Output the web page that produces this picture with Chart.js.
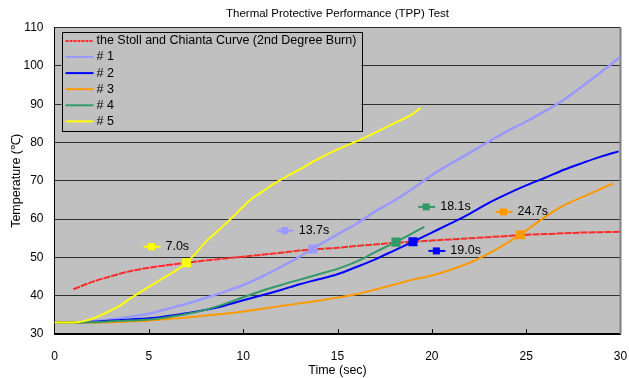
<!DOCTYPE html>
<html>
<head>
<meta charset="utf-8">
<script src="https://cdn.jsdelivr.net/npm/chart.js@4.4.1/dist/chart.umd.min.js"></script>
<style>
  html, body { margin: 0; padding: 0; background: #fff; }
</style>
</head>
<body>
<canvas id="tpp" width="629" height="378"></canvas>
<script>
const FONT = '"Liberation Sans", Arial, sans-serif';
const TITLE = 'Thermal Protective Performance (TPP) Test';

// Stoll and Chianta curve (2nd degree burn)
const stollTime = [1,2,3,4,5,6,7,8,9,10,11,12,13,14,15,16,17,18,19,20,21,22,23,24,25,26,27,28,29,30];
const stollTemp = [41.7,43.6,45.1,46.4,47.3,48.0,48.6,49.2,49.7,50.2,50.7,51.2,51.8,52.2,52.5,53.0,53.4,53.8,54.1,54.4,54.7,55.0,55.3,55.6,55.9,56.1,56.3,56.5,56.6,56.7];

// test specimens #1..#5
const time1 = [0,1,2,3,4,5,6,7,8,9,10,11,12,13,14,15,16,17,18,19,20,21,22,23,24,25,26,27,28,29,30];
const temp1 = [33,33,33.3,33.8,34.5,35.3,36.6,37.9,39.4,41.0,42.8,45,47.5,50.2,53.2,56,58.8,62,64.8,68,71.5,74.5,77.3,80.2,83,85.5,88.2,91.2,94.8,98.5,102.4];

const time2 = [0,1,2,3,4,5,6,7,8,9,10,11,12,13,14,15,16,17,18,19,20,21,22,23,24,25,26,27,28,29,29.9];
const temp2 = [33,33,33.2,33.5,33.8,34.1,34.7,35.4,36.3,37.4,38.8,40.1,41.5,43,44.3,45.6,47.5,49.5,51.8,54.1,56.5,58.9,61.4,64.2,66.6,68.8,70.8,72.9,74.7,76.4,77.7];

const time3 = [0,1,2,3,4,5,6,7,8,9,10,11,12,13,14,15,16,17,18,19,20,21,22,23,24,25,26,27,28,29,29.6];
const temp3 = [33,33,33,33.1,33.3,33.5,33.9,34.3,34.8,35.3,35.9,36.6,37.3,38,38.7,39.5,40.4,41.6,42.9,44.2,45.3,46.8,48.6,51,53.8,57,60.6,63.6,65.8,68,69.3];

const time4 = [0,1,2,3,4,5,6,7,8,9,10,11,12,13,14,15,16,17,18,19,19.6];
const temp4 = [33,33,33.1,33.3,33.5,33.8,34.4,35.2,36.3,37.8,39.6,41.3,42.8,44.2,45.6,47,48.9,51.4,53.8,56.4,58];

const time5 = [0,1,1.5,2,2.5,3,3.5,4,4.5,5,5.5,6,6.5,7,7.5,8,8.5,9,9.5,10,10.5,11,11.5,12,13,14,15,16,17,18,19,19.4];
const temp5 = [33,33,33.3,34,35,36.2,37.5,39.2,40.8,42.3,43.8,45.3,46.8,48.6,51.2,54,56.2,58.5,60.8,63.3,65.5,67.1,68.8,70.3,73,75.8,78.2,80.3,82.6,85,87.5,89];

const seriesNames = ['the Stoll and Chianta Curve (2nd Degree Burn)', '# 1', '# 2', '# 3', '# 4', '# 5'];
const seriesColors = ['#ff2a2a', '#9999ff', '#0000ff', '#ff9900', '#339966', '#ffff00'];
const seriesWidths = [2, 2.5, 2, 2, 2, 2];

// where each specimen crosses the Stoll curve
const crossTime = [7.0, 13.7, 18.1, 19.0, 24.7];
const crossTemp = [48.6, 52.2, 54.0, 54.1, 55.9];
const crossColor = ['#ffff00', '#9999ff', '#339966', '#0000ff', '#ff9900'];

// callout labels (anchor of the little marker, in data units)
const calloutText = ['7.0s', '13.7s', '18.1s', '19.0s', '24.7s'];
const calloutTime = [5.14, 12.2, 19.7, 20.24, 23.8];
const calloutTemp = [52.8, 57.0, 63.2, 51.7, 61.9];

const xTicks = [5, 10, 15, 20, 25];

function pts(xs, ys) {
    return xs.map((v, i) => ({x: v, y: ys[i]}));
}

const plotFrame = {
    id: 'plotFrame',
    beforeDraw(chart) {
        const {ctx, chartArea: a} = chart;
        ctx.save();
        ctx.fillStyle = '#c0c0c0';
        ctx.fillRect(a.left, a.top, a.right - a.left, a.bottom - a.top);
        // title, centred over the plot area
        ctx.fillStyle = '#000';
        ctx.font = '11.5px ' + FONT;
        ctx.textAlign = 'center';
        ctx.textBaseline = 'middle';
        ctx.fillText(TITLE, (a.left + a.right) / 2, 14);
        ctx.restore();
    },
    beforeDatasetsDraw(chart) {
        const {ctx, chartArea: a, scales: {x}} = chart;
        ctx.save();
        ctx.strokeStyle = '#808080';
        ctx.lineWidth = 2;
        ctx.beginPath();
        ctx.moveTo(a.right, a.top);
        ctx.lineTo(a.right, a.bottom);
        ctx.stroke();
        // small inward tick marks on the time axis
        ctx.strokeStyle = '#000';
        ctx.lineWidth = 1;
        xTicks.forEach(t => {
            const px = Math.round(x.getPixelForValue(t)) + 0.5;
            ctx.beginPath();
            ctx.moveTo(px, a.bottom);
            ctx.lineTo(px, a.bottom - 5);
            ctx.stroke();
        });
        ctx.restore();
    }
};

const callouts = {
    id: 'callouts',
    afterDatasetsDraw(chart) {
        const {ctx, scales: {x, y}} = chart;
        ctx.save();
        ctx.font = '12.5px ' + FONT;
        ctx.textBaseline = 'middle';
        calloutText.forEach((txt, i) => {
            const px = x.getPixelForValue(calloutTime[i]);
            const py = y.getPixelForValue(calloutTemp[i]);
            ctx.strokeStyle = crossColor[i];
            ctx.lineWidth = 2;
            ctx.beginPath();
            ctx.moveTo(px - 8, py);
            ctx.lineTo(px + 9, py);
            ctx.stroke();
            ctx.fillStyle = crossColor[i];
            ctx.fillRect(px - 3.5, py - 3.5, 7, 7);
            ctx.fillStyle = '#000';
            ctx.fillText(txt, px + 14, py);
        });
        ctx.restore();
    }
};

const boxLegend = {
    id: 'boxLegend',
    afterDraw(chart) {
        const {ctx, chartArea: a} = chart;
        ctx.save();
        ctx.font = '12.5px ' + FONT;
        const tw = Math.max(...seriesNames.map(n => ctx.measureText(n).width));
        const left = a.left + 7, top = a.top + 4.5;
        const w = 35 + tw + 5, h = 98.5;
        ctx.fillStyle = '#c0c0c0';
        ctx.fillRect(left, top, w, h);
        ctx.strokeStyle = '#000';
        ctx.lineWidth = 1;
        ctx.strokeRect(Math.round(left) + 0.5, Math.round(top) + 0.5, Math.round(w), Math.round(h));
        ctx.textBaseline = 'middle';
        seriesNames.forEach((name, i) => {
            const ry = top + 8.7 + i * 16.1;
            ctx.strokeStyle = seriesColors[i];
            ctx.lineWidth = 2;
            ctx.setLineDash(i === 0 ? [3, 1] : []);
            ctx.beginPath();
            ctx.moveTo(left + 4, ry);
            ctx.lineTo(left + 32, ry);
            ctx.stroke();
            ctx.setLineDash([]);
            ctx.fillStyle = '#000';
            ctx.fillText(name, left + 35, ry);
        });
        ctx.restore();
    }
};

const lineSets = [
    [stollTime, stollTemp],
    [time1, temp1],
    [time2, temp2],
    [time3, temp3],
    [time4, temp4],
    [time5, temp5]
].map(([xs, ys], i) => ({
    label: seriesNames[i],
    data: pts(xs, ys),
    borderColor: seriesColors[i],
    borderWidth: seriesWidths[i],
    borderDash: i === 0 ? [7, 1] : [],
    pointRadius: 0,
    fill: false,
    cubicInterpolationMode: 'monotone',
    order: 6 - i + 1
}));

const markerSet = {
    label: 'crossings',
    data: pts(crossTime, crossTemp),
    showLine: false,
    pointStyle: 'rect',
    pointRadius: 6.4,
    pointBorderWidth: 0,
    pointBackgroundColor: crossColor,
    order: 0
};

const ctx = document.getElementById('tpp').getContext('2d');
new Chart(ctx, {
    type: 'line',
    data: {datasets: lineSets.concat([markerSet])},
    plugins: [plotFrame, callouts, boxLegend],
    options: {
        responsive: false,
        animation: false,
        events: [],
        layout: {padding: {left: 0, right: 8.5, top: 27.7, bottom: 0}},
        plugins: {
            legend: {display: false},
            tooltip: {enabled: false},
            title: {display: false}
        },
        scales: {
            x: {
                type: 'linear',
                min: 0,
                max: 30,
                ticks: {stepSize: 5, padding: 15, color: '#000', font: {family: FONT, size: 12}},
                grid: {display: false, drawTicks: false},
                border: {color: '#000', width: 2},
                title: {display: true, text: 'Time (sec)', color: '#000', font: {family: FONT, size: 12.5}, padding: {top: 2, bottom: 0}},
                afterFit(s) { s.height = 44; s.paddingLeft = 0; s.paddingRight = 0; }
            },
            y: {
                min: 30,
                max: 110,
                ticks: {stepSize: 10, padding: 11, color: '#000', font: {family: FONT, size: 12}},
                grid: {color: '#303030', drawTicks: false},
                border: {color: '#000', width: 1},
                title: {display: true, text: 'Temperature (℃)', color: '#000', font: {family: FONT, size: 12.5}, padding: {top: 9, bottom: 0}},
                afterFit(s) { s.width = 54.5; s.paddingTop = 0; s.paddingBottom = 0; }
            }
        }
    }
});
</script>
</body>
</html>
